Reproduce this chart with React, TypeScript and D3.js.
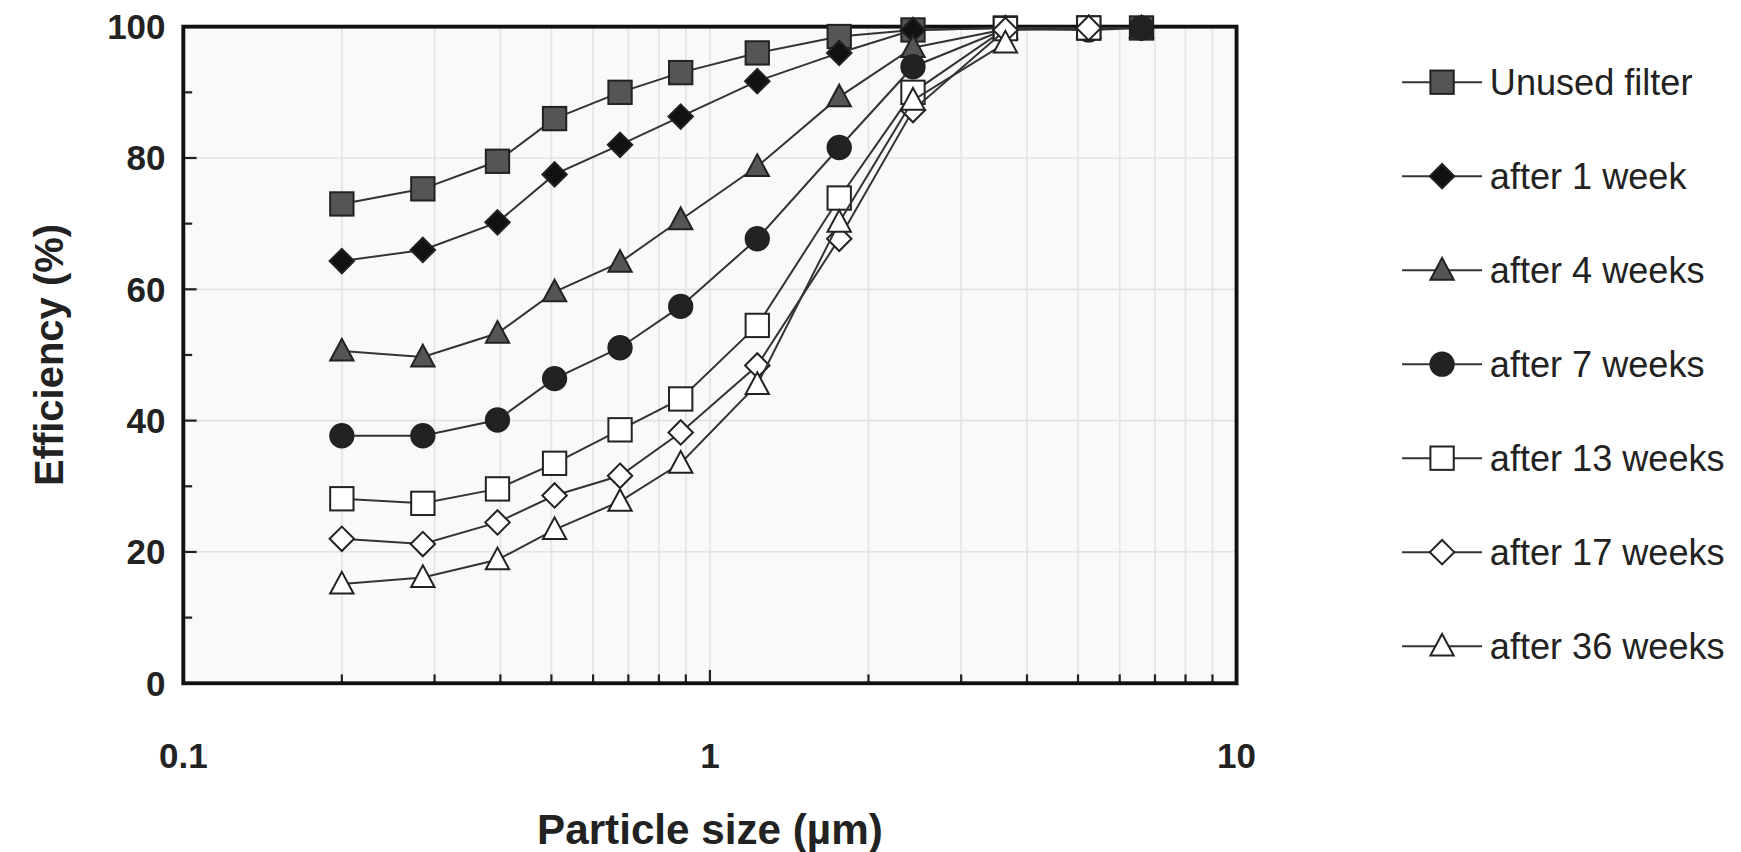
import React from 'react';
import * as d3 from 'd3';

const sizes = [0.2, 0.285, 0.395, 0.507, 0.675, 0.88, 1.23, 1.76, 2.43, 3.64, 5.24, 6.6];
const unused = [73, 75.3, 79.5, 86, 90, 93, 96, 98.5, 99.5, 99.8, 99.8, 99.8];
const week1 = [64.3, 66, 70.2, 77.5, 82, 86.3, 91.7, 96, 99.5, 99.8, 99.8, 99.8];
const week4 = [50.6, 49.7, 53.3, 59.6, 64.1, 70.6, 78.7, 89.3, 96.8, 99.6, 99.8, 99.8];
const week7 = [37.7, 37.7, 40.1, 46.4, 51.1, 57.4, 67.7, 81.6, 93.9, 99.6, 99.5, 99.8];
const week13 = [28.1, 27.4, 29.6, 33.5, 38.6, 43.3, 54.5, 73.9, 90, 99.7, 99.8];
const week17 = [22, 21.2, 24.5, 28.6, 31.6, 38.2, 48.4, 67.7, 87.3, 99.5, 99.8];
const week36 = [15.1, 16.1, 18.8, 23.4, 27.7, 33.5, 45.5, 70.2, 88.8, 97.5];

const series = [
  { name: 'Unused filter', values: unused, shape: 'square', fill: '#555' },
  { name: 'after 1 week', values: week1, shape: 'diamond', fill: '#111' },
  { name: 'after 4 weeks', values: week4, shape: 'triangle', fill: '#555' },
  { name: 'after 7 weeks', values: week7, shape: 'circle', fill: '#222' },
  { name: 'after 13 weeks', values: week13, shape: 'square', fill: '#fff' },
  { name: 'after 17 weeks', values: week17, shape: 'diamond', fill: '#fff' },
  { name: 'after 36 weeks', values: week36, shape: 'triangle', fill: '#fff' },
];

const yTicks = [0, 20, 40, 60, 80, 100];
const xTicks = [0.1, 1, 10];

const Marker = ({ shape, fill, x, y }: any) => {
  const st = { fill, stroke: '#222', strokeWidth: 1.8 };
  if (shape === 'square') return <rect x={x - 10.5} y={y - 10.5} width={21} height={21} {...st} />;
  if (shape === 'circle') return <circle cx={x} cy={y} r={10.5} {...st} />;
  if (shape === 'diamond') return <path d={`M${x},${y - 11}L${x + 11},${y}L${x},${y + 11}L${x - 11},${y}Z`} {...st} />;
  return <path d={`M${x},${y - 11}L${x + 10.5},${y + 8.5}L${x - 10.5},${y + 8.5}Z`} {...st} />;
};

export default function App() {
  const L = 165, R = 1113, T = 24, B = 615;
  const x = d3.scaleLog().domain([0.1, 10]).range([L, R]);
  const y = d3.scaleLinear().domain([0, 100]).range([B, T]);
  const minor: number[] = [];
  for (const d of [0.1, 1]) for (let k = 2; k <= 9; k++) minor.push(d * k);
  const line = d3.line<number>().x((_, i) => x(sizes[i])).y((v) => y(v));
  const font = 'Liberation Sans, Arial, sans-serif';
  return (
    <svg width={1741} height={852} style={{ position: 'absolute', left: 0, top: 0, fontFamily: font }}>
      <g transform="scale(1.111)">
        <rect x={L} y={T} width={R - L} height={B - T} fill="#f9f9f9" />
        {[...minor, 1].map((m) => (
          <line key={m} x1={x(m)} x2={x(m)} y1={T} y2={B} stroke="#e4e4e4" strokeWidth={1.5} />
        ))}
        {yTicks.slice(1, -1).map((t) => (
          <line key={t} x1={L} x2={R} y1={y(t)} y2={y(t)} stroke="#e4e4e4" strokeWidth={1.5} />
        ))}
        {d3.range(10, 100, 10).map((t) => (
          <line key={t} x1={L} x2={L + (t % 20 === 0 ? 12 : 8)} y1={y(t)} y2={y(t)} stroke="#222" strokeWidth={2} />
        ))}
        {minor.map((m) => (
          <line key={'t' + m} x1={x(m)} x2={x(m)} y1={B} y2={B - 8} stroke="#222" strokeWidth={2} />
        ))}
        <line x1={x(1)} x2={x(1)} y1={B} y2={B - 12} stroke="#222" strokeWidth={2} />
        <rect x={L} y={T} width={R - L} height={B - T} fill="none" stroke="#111" strokeWidth={3.5} />
        {yTicks.map((t) => (
          <text key={t} x={L - 16} y={y(t)} dy="0.35em" textAnchor="end" fontSize={31.5} fontWeight="bold" fill="#222">{t}</text>
        ))}
        {xTicks.map((t) => (
          <text key={t} x={x(t)} y={B + 76} textAnchor="middle" fontSize={31.5} fontWeight="bold" fill="#222">{t}</text>
        ))}
        <text x={639} y={760} textAnchor="middle" fontSize={38} fontWeight="bold" fill="#222">Particle size (µm)</text>
        <text transform={`translate(44,${(T + B) / 2}) rotate(-90)`} dy="0.35em" textAnchor="middle" fontSize={36} fontWeight="bold" fill="#222">Efficiency (%)</text>
        {series.map((s) => (
          <g key={s.name}>
            <path d={line(s.values) || ''} fill="none" stroke="#333" strokeWidth={1.8} />
            {s.values.map((v, i) => (
              <Marker key={i} shape={s.shape} fill={s.fill} x={x(sizes[i])} y={y(v)} />
            ))}
          </g>
        ))}
        {series.map((s, i) => {
          const ly = 74 + i * 84.6;
          return (
            <g key={'l' + s.name}>
              <line x1={1262} x2={1334} y1={ly} y2={ly} stroke="#333" strokeWidth={1.8} />
              <Marker shape={s.shape} fill={s.fill} x={1298} y={ly} />
              <text x={1341} y={ly} dy="0.35em" fontSize={32.5} fill="#222">{s.name}</text>
            </g>
          );
        })}
      </g>
    </svg>
  );
}
